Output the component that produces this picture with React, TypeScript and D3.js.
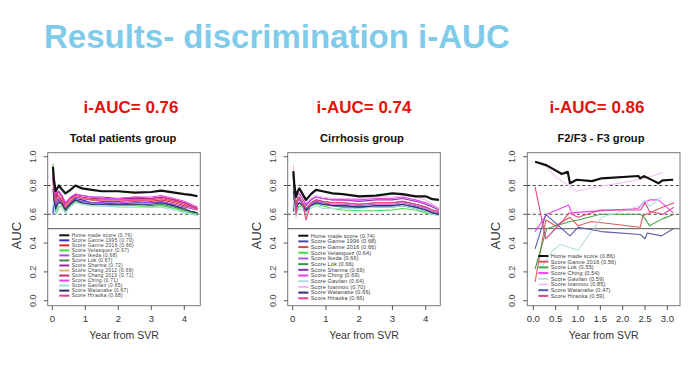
import React from "react";
import * as d3 from "d3";

const FONT = "'Liberation Sans', Arial, Helvetica, sans-serif";

// ---------- Panel 1: Total patients group ----------
const timeGrid = [0.02, 0.05, 0.1, 0.15, 0.2, 0.3, 0.4, 0.55, 0.7, 0.9, 1.2, 1.5, 2.0, 2.5, 3.0, 3.3, 3.7, 4.0, 4.2, 4.4];

const p1Names = [
  "Home made score (0.76)", "Score Ganne 1995 (0.70)", "Score Ganne 2016 (0.66)", "Score Velasquez (0.67)",
  "Score Ikeda (0.68)", "Score Lok (0.67)", "Score Sharma (0.72)", "Score Chang 2012 (0.69)",
  "Score Chang 2013 (0.71)", "Score Ching (0.71)", "Score Gavilan (0.65)", "Score Watanabe (0.67)", "Score Hiraoka (0.68)",
];
const p1Colors = ["#111111", "#2a2ae0", "#e02a2a", "#3ee03e", "#a64ae0", "#3f8a4a", "#9a2aa0", "#e0b060", "#cc2a66", "#f03ef0", "#a6d8e4", "#2e2e6e", "#e0409a"];
const p1Home = [0.93, 0.84, 0.76, 0.78, 0.80, 0.77, 0.745, 0.77, 0.80, 0.78, 0.77, 0.76, 0.76, 0.75, 0.755, 0.765, 0.75, 0.74, 0.735, 0.725];
const p1Ganne1995 = [0.60, 0.72, 0.66, 0.70, 0.71, 0.69, 0.63, 0.68, 0.71, 0.70, 0.68, 0.68, 0.67, 0.68, 0.68, 0.68, 0.66, 0.63, 0.62, 0.61];
const p1Ganne2016 = [0.88, 0.80, 0.70, 0.74, 0.72, 0.68, 0.64, 0.69, 0.72, 0.71, 0.70, 0.69, 0.69, 0.70, 0.69, 0.70, 0.68, 0.66, 0.65, 0.64];
const p1Velasquez = [0.95, 0.72, 0.60, 0.62, 0.65, 0.66, 0.62, 0.66, 0.69, 0.67, 0.66, 0.66, 0.66, 0.66, 0.65, 0.66, 0.64, 0.62, 0.61, 0.60];
const p1Ikeda = [0.85, 0.70, 0.64, 0.69, 0.70, 0.67, 0.64, 0.68, 0.70, 0.69, 0.68, 0.68, 0.68, 0.69, 0.68, 0.69, 0.67, 0.65, 0.64, 0.63];
const p1Lok = [0.90, 0.74, 0.62, 0.66, 0.68, 0.67, 0.63, 0.67, 0.70, 0.68, 0.67, 0.67, 0.67, 0.67, 0.66, 0.67, 0.65, 0.63, 0.62, 0.61];
const p1Sharma = [0.86, 0.80, 0.72, 0.75, 0.76, 0.72, 0.68, 0.71, 0.74, 0.73, 0.72, 0.72, 0.71, 0.71, 0.71, 0.72, 0.70, 0.68, 0.66, 0.64];
const p1Chang2012 = [0.82, 0.76, 0.68, 0.71, 0.72, 0.70, 0.66, 0.70, 0.72, 0.71, 0.70, 0.70, 0.70, 0.70, 0.70, 0.71, 0.69, 0.67, 0.65, 0.64];
const p1Chang2013 = [0.84, 0.80, 0.72, 0.75, 0.75, 0.72, 0.67, 0.71, 0.73, 0.72, 0.71, 0.71, 0.71, 0.72, 0.71, 0.72, 0.70, 0.68, 0.66, 0.64];
const p1Ching = [0.88, 0.82, 0.74, 0.76, 0.76, 0.73, 0.68, 0.72, 0.74, 0.73, 0.72, 0.71, 0.71, 0.72, 0.72, 0.73, 0.71, 0.69, 0.67, 0.65];
const p1Gavilan = [0.70, 0.66, 0.60, 0.64, 0.66, 0.64, 0.61, 0.65, 0.68, 0.67, 0.66, 0.66, 0.65, 0.65, 0.65, 0.65, 0.63, 0.61, 0.60, 0.59];
const p1Watanabe = [0.78, 0.70, 0.64, 0.67, 0.69, 0.67, 0.63, 0.67, 0.70, 0.68, 0.67, 0.67, 0.67, 0.67, 0.67, 0.68, 0.66, 0.64, 0.62, 0.61];
const p1Hiraoka = [0.86, 0.76, 0.68, 0.72, 0.73, 0.70, 0.65, 0.69, 0.72, 0.71, 0.70, 0.70, 0.70, 0.70, 0.70, 0.71, 0.69, 0.67, 0.65, 0.63];
const p1Values = [p1Home, p1Ganne1995, p1Ganne2016, p1Velasquez, p1Ikeda, p1Lok, p1Sharma, p1Chang2012, p1Chang2013, p1Ching, p1Gavilan, p1Watanabe, p1Hiraoka];

// ---------- Panel 2: Cirrhosis group ----------
const p2Names = [
  "Home made score (0.74)", "Score Ganne 1996 (0.68)", "Score Ganne 2016 (0.66)", "Score Velasquez (0.64)",
  "Score Ikeda (0.66)", "Score Lok (0.66)", "Score Sharma (0.69)", "Score Ching (0.69)",
  "Score Gavilan (0.64)", "Score Ioannou (0.70)", "Score Watanabe (0.66)", "Score Hiraoka (0.66)",
];
const p2Colors = ["#111111", "#4a4aa8", "#d24a4a", "#3ee03e", "#b257e0", "#3f8a55", "#9230b4", "#e640e6", "#b4d8e2", "#f2b4f2", "#2e2e82", "#e04488"];
const p2Home = [0.90, 0.80, 0.72, 0.76, 0.78, 0.74, 0.70, 0.74, 0.77, 0.76, 0.745, 0.74, 0.725, 0.73, 0.745, 0.74, 0.725, 0.725, 0.705, 0.70];
const p2Ganne1996 = [0.62, 0.74, 0.66, 0.70, 0.70, 0.68, 0.63, 0.67, 0.69, 0.68, 0.66, 0.66, 0.65, 0.65, 0.66, 0.66, 0.64, 0.62, 0.61, 0.60];
const p2Ganne2016 = [0.86, 0.78, 0.68, 0.72, 0.72, 0.68, 0.64, 0.68, 0.70, 0.69, 0.68, 0.68, 0.67, 0.68, 0.68, 0.69, 0.67, 0.65, 0.63, 0.62];
const p2Velasquez = [0.80, 0.66, 0.60, 0.64, 0.66, 0.65, 0.62, 0.66, 0.67, 0.66, 0.64, 0.63, 0.625, 0.625, 0.63, 0.64, 0.63, 0.61, 0.60, 0.59];
const p2Ikeda = [0.84, 0.72, 0.64, 0.69, 0.70, 0.67, 0.63, 0.67, 0.69, 0.68, 0.67, 0.67, 0.66, 0.67, 0.67, 0.68, 0.66, 0.64, 0.62, 0.61];
const p2Lok = [0.88, 0.72, 0.62, 0.66, 0.68, 0.66, 0.62, 0.66, 0.68, 0.67, 0.66, 0.65, 0.65, 0.65, 0.65, 0.66, 0.65, 0.63, 0.61, 0.60];
const p2Sharma = [0.86, 0.80, 0.72, 0.74, 0.74, 0.71, 0.66, 0.70, 0.72, 0.71, 0.70, 0.70, 0.69, 0.70, 0.70, 0.71, 0.69, 0.67, 0.65, 0.63];
const p2Ching = [0.86, 0.82, 0.73, 0.75, 0.75, 0.72, 0.67, 0.71, 0.72, 0.71, 0.70, 0.70, 0.70, 0.71, 0.71, 0.72, 0.70, 0.68, 0.66, 0.64];
const p2Gavilan = [0.70, 0.64, 0.58, 0.62, 0.64, 0.63, 0.61, 0.64, 0.66, 0.64, 0.64, 0.64, 0.64, 0.65, 0.65, 0.66, 0.64, 0.62, 0.60, 0.59];
const p2Ioannou = [0.94, 0.80, 0.70, 0.74, 0.75, 0.72, 0.68, 0.71, 0.73, 0.72, 0.71, 0.71, 0.71, 0.72, 0.72, 0.73, 0.72, 0.70, 0.67, 0.64];
const p2Watanabe = [0.76, 0.70, 0.64, 0.67, 0.68, 0.66, 0.63, 0.66, 0.68, 0.67, 0.66, 0.66, 0.65, 0.66, 0.66, 0.67, 0.65, 0.63, 0.61, 0.60];
const p2Hiraoka = [0.84, 0.78, 0.60, 0.70, 0.72, 0.68, 0.56, 0.68, 0.70, 0.69, 0.68, 0.68, 0.67, 0.68, 0.68, 0.69, 0.67, 0.65, 0.63, 0.62];
const p2Values = [p2Home, p2Ganne1996, p2Ganne2016, p2Velasquez, p2Ikeda, p2Lok, p2Sharma, p2Ching, p2Gavilan, p2Ioannou, p2Watanabe, p2Hiraoka];

// ---------- Panel 3: F2/F3 - F3 group ----------
const p3Names = [
  "Home made score (0.86)", "Score Ganne 2016 (0.56)", "Score Lok (0.55)", "Score Ching (0.54)",
  "Score Gavilan (0.59)", "Score Ioannou (0.85)", "Score Watanabe (0.47)", "Score Hiraoka (0.59)",
];
const p3Colors = ["#111111", "#e05a5a", "#47a447", "#f040f0", "#b4e0e4", "#f2c2f2", "#5a5aa8", "#e0468a"];
const p3HomeT = [0.04, 0.30, 0.64, 0.77, 0.82, 0.97, 1.31, 1.53, 2.35, 2.39, 2.48, 2.80, 2.89, 3.13];
const p3HomeV = [0.965, 0.94, 0.88, 0.895, 0.815, 0.84, 0.83, 0.85, 0.866, 0.85, 0.865, 0.815, 0.835, 0.84];
const p3Ganne2016T = [0.04, 0.28, 0.5, 0.82, 1.0, 1.3, 2.39, 2.45, 2.9, 3.15];
const p3Ganne2016V = [0.13, 0.56, 0.52, 0.58, 0.52, 0.55, 0.51, 0.59, 0.65, 0.68];
const p3LokT = [0.04, 0.3, 0.82, 1.0, 1.5, 2.4, 2.5, 2.6, 2.9, 3.15];
const p3LokV = [0.22, 0.50, 0.55, 0.56, 0.60, 0.60, 0.57, 0.52, 0.57, 0.60];
const p3ChingT = [0.04, 0.30, 0.79, 0.86, 1.31, 2.35, 2.45, 2.6, 2.8, 3.13];
const p3ChingV = [0.48, 0.60, 0.665, 0.61, 0.62, 0.64, 0.676, 0.70, 0.70, 0.61];
const p3GavilanT = [0.2, 0.41, 0.6, 1.0, 1.53, 2.39, 2.5, 2.6, 2.87];
const p3GavilanV = [0.24, 0.34, 0.39, 0.35, 0.58, 0.66, 0.70, 0.655, 0.72];
const p3IoannouT = [0.2, 0.5, 0.97, 1.4, 2.0, 2.5, 2.9];
const p3IoannouV = [0.96, 0.86, 0.76, 0.79, 0.82, 0.85, 0.89];
const p3WatanabeT = [0.04, 0.28, 0.82, 1.0, 1.53, 2.39, 2.5, 2.55, 2.87, 3.13];
const p3WatanabeV = [0.36, 0.60, 0.45, 0.51, 0.48, 0.46, 0.43, 0.47, 0.45, 0.50];
const p3HiraokaT = [0.04, 0.28, 0.65, 0.8, 1.0, 1.5, 2.4, 2.5, 2.6, 2.9, 3.15];
const p3HiraokaV = [0.79, 0.43, 0.55, 0.61, 0.58, 0.63, 0.63, 0.68, 0.62, 0.60, 0.65];
const p3Times = [p3HomeT, p3Ganne2016T, p3LokT, p3ChingT, p3GavilanT, p3IoannouT, p3WatanabeT, p3HiraokaT];
const p3Values = [p3HomeV, p3Ganne2016V, p3LokV, p3ChingV, p3GavilanV, p3IoannouV, p3WatanabeV, p3HiraokaV];

const yTicks = [0, 0.2, 0.4, 0.6, 0.8, 1.0];
const xTicksP12 = [0, 1, 2, 3, 4];
const xTicksP3 = [0, 0.5, 1, 1.5, 2, 2.5, 3];

type Series = { name: string; color: string; t: number[]; v: number[] };

type PanelProps = {
  frameL: number;
  frameR: number;
  xDomain: [number, number];
  xRange: [number, number];
  xTicks: number[];
  xFmt: (d: number) => string;
  series: Series[];
  legendX: number;
  legendY: number;
  legendStep: number;
  legendFont: number;
  legendSpacing: number;
  iauc: string;
  iaucX: number;
  subtitle: string;
  subX: number;
};

const frameT = 152.7;
const frameB = 305.7;

function Panel(p: PanelProps) {
  const x = d3.scaleLinear().domain(p.xDomain).range(p.xRange);
  const y = d3.scaleLinear().domain([0, 1]).range([300.7, 156.7]);
  const line = d3
    .line<[number, number]>()
    .x((d) => x(d[0]))
    .y((d) => y(d[1]));
  const ordered = [...p.series.slice(1), p.series[0]];
  const axisGray = "#555";
  return (
    <g>
      <text x={p.iaucX} y={113} textAnchor="middle" fontFamily={FONT} fontWeight="bold" fontSize={17} fill="#e3120b">
        {p.iauc}
      </text>
      <text x={p.subX} y={142} textAnchor="middle" fontFamily={FONT} fontWeight="bold" fontSize={11.2} fill="#111">
        {p.subtitle}
      </text>
      {/* reference lines */}
      {[0.8, 0.6].map((v) => (
        <line key={v} x1={p.frameL} x2={p.frameR} y1={y(v)} y2={y(v)} stroke="#444" strokeWidth={1} strokeDasharray="3,2.5" />
      ))}
      <line x1={p.frameL} x2={p.frameR} y1={y(0.5)} y2={y(0.5)} stroke="#555" strokeWidth={1} />
      {/* series */}
      {ordered.map((s, i) => (
        <path
          key={i}
          d={line(s.t.map((t, k) => [t, s.v[k]] as [number, number])) || ""}
          fill="none"
          stroke={s.color}
          strokeWidth={s === p.series[0] ? 2.2 : 1.1}
          strokeLinejoin="round"
        />
      ))}
      {/* frame */}
      <rect x={p.frameL} y={frameT} width={p.frameR - p.frameL} height={frameB - frameT} fill="none" stroke="#777" strokeWidth={1} />
      {/* y axis */}
      {yTicks.map((v) => (
        <g key={v}>
          <line x1={p.frameL - 4} x2={p.frameL} y1={y(v)} y2={y(v)} stroke={axisGray} />
          <text
            transform={`translate(${p.frameL - 12},${y(v)}) rotate(-90)`}
            textAnchor="middle"
            fontFamily={FONT}
            fontSize={9}
            fill="#444"
          >
            {v.toFixed(1)}
          </text>
        </g>
      ))}
      <text
        transform={`translate(${p.frameL - 27},${y(0.5) + 7}) rotate(-90)`}
        textAnchor="middle"
        fontFamily={FONT}
        fontSize={13}
        fill="#333"
      >
        AUC
      </text>
      {/* x axis */}
      {p.xTicks.map((t) => (
        <g key={t}>
          <line x1={x(t)} x2={x(t)} y1={frameB} y2={frameB + 4.5} stroke={axisGray} />
          <text x={x(t)} y={321.5} textAnchor="middle" fontFamily={FONT} fontSize={9.5} fill="#333">
            {p.xFmt(t)}
          </text>
        </g>
      ))}
      <text x={(p.frameL + p.frameR) / 2} y={339} textAnchor="middle" fontFamily={FONT} fontSize={10.5} fill="#333">
        Year from SVR
      </text>
      {/* legend */}
      {p.series.map((s, i) => (
        <g key={i}>
          <line
            x1={p.legendX}
            x2={p.legendX + 10}
            y1={p.legendY + i * p.legendStep}
            y2={p.legendY + i * p.legendStep}
            stroke={s.color}
            strokeWidth={2}
          />
          <text
            x={p.legendX + 12.5}
            y={p.legendY + i * p.legendStep + 1.8}
            fontFamily={FONT}
            fontSize={p.legendFont}
            letterSpacing={p.legendSpacing}
            fill="#3a3a3a"
          >
            {s.name}
          </text>
        </g>
      ))}
    </g>
  );
}

export default function App() {
  const s1: Series[] = p1Names.map((n, i) => ({ name: n, color: p1Colors[i], t: timeGrid, v: p1Values[i] }));
  const s2: Series[] = p2Names.map((n, i) => ({ name: n, color: p2Colors[i], t: timeGrid, v: p2Values[i] }));
  const s3: Series[] = p3Names.map((n, i) => ({ name: n, color: p3Colors[i], t: p3Times[i], v: p3Values[i] }));
  return (
    <svg width={698} height={369} style={{ position: "absolute", left: 0, top: 0, background: "#fff" }}>
      <rect width={698} height={369} fill="#fff" />
      <text x={44} y={48} fontFamily={FONT} fontWeight="bold" fontSize={33} fill="#80cbea">
        Results- discrimination i-AUC
      </text>
      <Panel
        frameL={47.7}
        frameR={200.3}
        xDomain={[0, 4]}
        xRange={[52.3, 184.3]}
        xTicks={xTicksP12}
        xFmt={(d) => String(d)}
        series={s1}
        legendX={59.3}
        legendY={235.3}
        legendStep={5.03}
        legendFont={4.9}
        legendSpacing={0.3}
        iauc="i-AUC= 0.76"
        iaucX={131}
        subtitle="Total patients group"
        subX={123}
      />
      <Panel
        frameL={287.7}
        frameR={440.3}
        xDomain={[0, 4]}
        xRange={[292.7, 425.7]}
        xTicks={xTicksP12}
        xFmt={(d) => String(d)}
        series={s2}
        legendX={298.3}
        legendY={235.7}
        legendStep={5.69}
        legendFont={5.5}
        legendSpacing={0.15}
        iauc="i-AUC= 0.74"
        iaucX={364}
        subtitle="Cirrhosis group"
        subX={362}
      />
      <Panel
        frameL={527.3}
        frameR={680}
        xDomain={[0, 3]}
        xRange={[533.3, 667.4]}
        xTicks={xTicksP3}
        xFmt={(d) => d.toFixed(1)}
        series={s3}
        legendX={538.3}
        legendY={256}
        legendStep={5.7}
        legendFont={5.5}
        legendSpacing={0.15}
        iauc="i-AUC= 0.86"
        iaucX={597}
        subtitle="F2/F3 - F3 group"
        subX={601}
      />
    </svg>
  );
}
